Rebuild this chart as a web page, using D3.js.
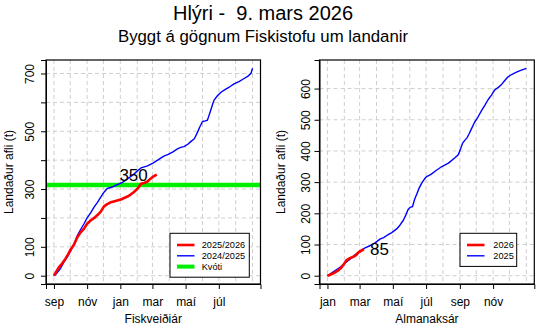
<!DOCTYPE html>
<html>
<head>
<meta charset="utf-8">
<script src="https://cdn.jsdelivr.net/npm/d3@7"></script>
<style>
  html, body { margin: 0; padding: 0; background: #fff; }
  svg { display: block; font-family: "Liberation Sans", Arial, Helvetica, sans-serif; }
</style>
</head>
<body>
<svg id="chart" width="555" height="333"></svg>
<script>
// Cumulative landings (t) by day of fishing year (day 0 = 1 Sep)
const fiskCurrentLabel = "2025/2026";
const fiskCurrent = [[0,0],[3,10],[9,29],[15,42],[21,58],[26,74],[31,92],[37,108],[43,133],[49,150],[55,162],
  [61,180],[68,192],[74,200],[80,210],[86,222],[92,240],[98,248],[104,254],[110,257],[116,260],[123,264],
  [130,270],[135,274],[141,281],[147,290],[153,300],[157,310],[160,318],[166,321],[172,326],[177,335],
  [181,341],[185,346],[189,350]];
const fiskPrevLabel = "2024/2025";
const fiskPrev = [[0,0],[5,8],[12,25],[18,46],[25,66],[31,87],[37,110],[43,139],[49,160],[55,179],[61,200],
  [68,219],[74,238],[80,254],[86,272],[92,289],[98,302],[107,307],[115,314],[126,323],[135,335],[144,347],
  [153,362],[160,373],[172,380],[182,390],[192,402],[202,414],[210,420],[218,428],[227,439],[233,444],
  [239,447],[246,455],[252,465],[258,474],[264,497],[268,515],[273,534],[278,536],[282,538],[285,555],
  [288,572],[291,590],[294,607],[300,622],[307,635],[315,645],[323,654],[331,664],[340,672],[348,681],
  [356,690],[362,700],[365,718]];
const quotaLabel = "Kvóti";
const quota = 314;

// Cumulative landings (t) by day of calendar year (day 0 = 1 Jan)
const calCurrentLabel = "2026";
const calCurrent = [[0,0],[5,3],[10,7],[14,11],[20,17],[26,27],[30,37],[35,50],[40,55],[48,61],[53,67],
  [57,75],[62,80],[67,85]];
const calPrevLabel = "2025";
const calPrev = [[0,0],[10,12],[23,27],[32,40],[42,54],[50,66],[60,80],[70,90],[78,96],[88,106],[97,118],
  [103,122],[109,129],[118,138],[127,150],[133,162],[139,177],[144,195],[148,212],[152,220],[156,221],
  [160,245],[164,262],[168,280],[173,297],[178,310],[182,318],[190,325],[200,338],[210,350],[222,361],
  [234,378],[240,388],[244,405],[248,425],[252,434],[256,442],[260,455],[264,470],[270,492],[276,508],
  [283,530],[289,547],[295,565],[301,579],[307,596],[313,603],[319,612],[325,625],[331,637],[338,645],
  [344,650],[350,655],[356,659],[365,665]];

// Axis ticks
const fiskMonthStarts = [0,30,61,91,122,153,181,212,242,273,303,334,365];
const fiskTickDays = [0,61,122,181,242,303];
const fiskTickLabels = ["sep","nóv","jan","mar","maí","júl"];
const calMonthStarts = [0,31,59,90,120,151,181,212,243,273,304,334,365];
const calTickDays = [0,59,120,181,243,304];
const calTickLabels = ["jan","mar","maí","júl","sep","nóv"];
const fiskYTicks = [0,100,200,300,400,500,600,700];
const fiskYLabels = [0,100,300,500,700];
const calYTicks = [0,100,200,300,400,500,600];

const titleText = "Hlýri -  9. mars 2026";
const subtitleText = "Byggt á gögnum Fiskistofu um landanir";
const yTitle = "Landaður afli (t)";

const svg = d3.select("#chart");

svg.append("text").attr("x", 263).attr("y", 20).attr("text-anchor", "middle")
  .style("white-space", "pre").attr("font-size", 20).text(titleText);
svg.append("text").attr("x", 263).attr("y", 41.5).attr("text-anchor", "middle")
  .attr("font-size", 16.8).text(subtitleText);

function padded(lo, hi) { const p = (hi - lo) * 0.04; return [lo - p, hi + p]; }

function panel(cfg) {
  const g = svg.append("g");
  const x = d3.scaleLinear().domain(padded(0, 365)).range([cfg.left, cfg.right]);
  const allVals = cfg.series.flatMap(s => s.data.map(d => d[1]));
  const y = d3.scaleLinear().domain(padded(0, d3.max(allVals))).range([284, 60]);

  // dashed grid
  const grid = g.append("g").attr("stroke", "#cfcfcf").attr("stroke-width", 1)
    .attr("stroke-dasharray", "4,3");
  grid.selectAll("line.v").data(cfg.monthStarts).join("line")
    .attr("x1", d => x(d)).attr("x2", d => x(d)).attr("y1", 60).attr("y2", 284);
  grid.selectAll("line.h").data(cfg.yTicks).join("line")
    .attr("y1", d => y(d)).attr("y2", d => y(d)).attr("x1", cfg.left).attr("x2", cfg.right);

  // quota line
  if (cfg.quota != null) {
    g.append("line").attr("x1", cfg.left).attr("x2", cfg.right)
      .attr("y1", y(cfg.quota)).attr("y2", y(cfg.quota))
      .attr("stroke", "#00ee00").attr("stroke-width", 4.5);
  }

  const line = d3.line().x(d => x(d[0])).y(d => y(d[1]));
  // previous year first, current year on top
  cfg.series.slice().reverse().forEach(s => {
    g.append("path").datum(s.data).attr("d", line).attr("fill", "none")
      .attr("stroke", s.color).attr("stroke-width", s.width).attr("stroke-linejoin", "round");
  });

  // value label at the end of the current series
  const last = cfg.series[0].data[cfg.series[0].data.length - 1];
  g.append("text")
    .attr("x", x(last[0]) + cfg.labelDx).attr("y", y(last[1]) + 6)
    .attr("text-anchor", cfg.labelDx < 0 ? "end" : "start")
    .attr("font-size", 17).text(last[1]);

  // box
  g.append("rect").attr("x", cfg.left).attr("y", 60)
    .attr("width", cfg.right - cfg.left).attr("height", 224)
    .attr("fill", "none").attr("stroke", "#000").attr("stroke-width", 1.2);

  // x axis
  const xa = g.append("g").attr("transform", "translate(0,284)")
    .call(d3.axisBottom(x).tickValues(cfg.tickDays)
      .tickFormat((d, i) => cfg.tickLabels[i]).tickSize(5).tickPadding(8));
  xa.select(".domain").attr("stroke", "#000");
  xa.selectAll("text").attr("font-size", 12).attr("font-family", null).attr("fill", "#000");

  // y axis (labels rotated, as in base R graphics)
  const ya = g.append("g").attr("transform", `translate(${cfg.left},0)`)
    .call(d3.axisLeft(y).tickValues(cfg.yTicks).tickSize(5)
      .tickFormat(d => cfg.yLabels.includes(d) ? d : ""));
  ya.select(".domain").attr("stroke", "#000");
  ya.selectAll("text").attr("font-size", 12).attr("font-family", null).attr("fill", "#000")
    .attr("text-anchor", "middle").attr("dy", null)
    .attr("transform", `translate(${cfg.yLabelX - cfg.left},0) rotate(-90)`)
    .attr("x", 0).attr("y", 0);

  // axis titles
  g.append("text").attr("x", (cfg.left + cfg.right) / 2).attr("y", 323)
    .attr("text-anchor", "middle").attr("font-size", 12).text(cfg.xTitle);
  g.append("text").attr("transform", `translate(${cfg.yTitleX},172) rotate(-90)`)
    .attr("text-anchor", "middle").attr("font-size", 12).text(yTitle);

  // legend
  const lg = g.append("g");
  lg.append("rect").attr("x", cfg.legend.x).attr("y", 233.3)
    .attr("width", cfg.legend.w).attr("height", cfg.legend.items.length * 10.8 + 11.5)
    .attr("fill", "#fff").attr("stroke", "#000").attr("stroke-width", 1);
  cfg.legend.items.forEach((it, i) => {
    const cy = 245 + i * 10.8;
    lg.append("line").attr("x1", cfg.legend.x + 7).attr("x2", cfg.legend.x + 24.5)
      .attr("y1", cy).attr("y2", cy).attr("stroke", it.color).attr("stroke-width", it.width);
    lg.append("text").attr("x", cfg.legend.x + cfg.legend.tx).attr("y", cy + 3.3)
      .attr("font-size", 9.2).text(it.label);
  });
}

panel({
  left: 46, right: 260.5,
  series: [
    { label: fiskCurrentLabel, data: fiskCurrent, color: "#ff0000", width: 2.6 },
    { label: fiskPrevLabel, data: fiskPrev, color: "#0000ff", width: 1.4 }
  ],
  quota: quota,
  monthStarts: fiskMonthStarts, tickDays: fiskTickDays, tickLabels: fiskTickLabels,
  yTicks: fiskYTicks, yLabels: fiskYLabels,
  yLabelX: 33.5, yTitleX: 12.5, xTitle: "Fiskveiðiár", labelDx: -9,
  legend: { x: 170, w: 79.3, tx: 31.7, items: [
    { label: fiskCurrentLabel, color: "#ff0000", width: 2.6 },
    { label: fiskPrevLabel, color: "#0000ff", width: 1.4 },
    { label: quotaLabel, color: "#00ee00", width: 4 }
  ] }
});

panel({
  left: 319.5, right: 534.3,
  series: [
    { label: calCurrentLabel, data: calCurrent, color: "#ff0000", width: 2.6 },
    { label: calPrevLabel, data: calPrev, color: "#0000ff", width: 1.4 }
  ],
  quota: null,
  monthStarts: calMonthStarts, tickDays: calTickDays, tickLabels: calTickLabels,
  yTicks: calYTicks, yLabels: calYTicks,
  yLabelX: 310, yTitleX: 284.5, xTitle: "Almanaksár", labelDx: 6,
  legend: { x: 460, w: 56.7, tx: 33.3, items: [
    { label: calCurrentLabel, color: "#ff0000", width: 2.6 },
    { label: calPrevLabel, color: "#0000ff", width: 1.4 }
  ] }
});
</script>
</body>
</html>
